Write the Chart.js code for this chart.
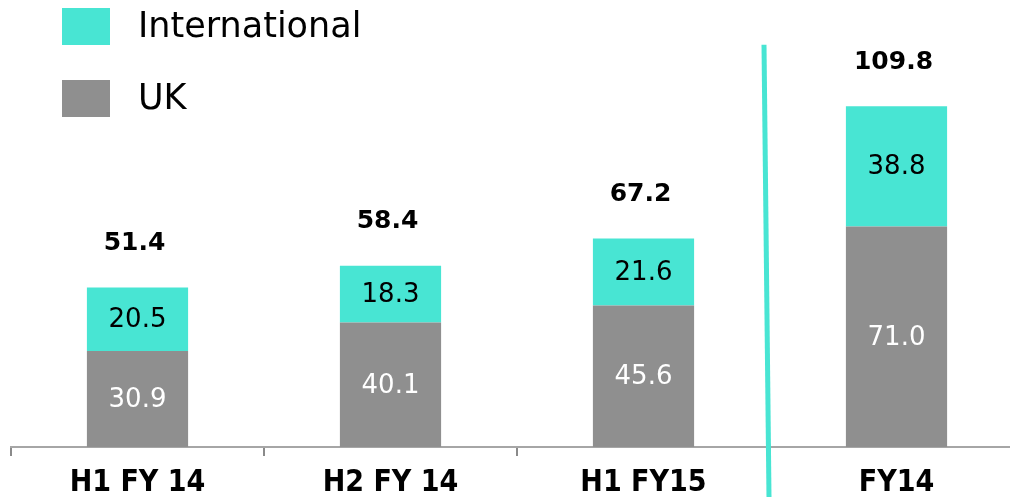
<!DOCTYPE html>
<html>
<head>
<meta charset="utf-8">
<script src="https://cdn.jsdelivr.net/npm/chart.js@4"></script>
<style>
  html, body { margin: 0; padding: 0; background: #fff; overflow: hidden; }
  #wrap { width: 1023px; height: 497px; }
</style>
</head>
<body>
<div id="wrap"><canvas id="chart"></canvas></div>
<script>
// chart data
const categories = ['H1 FY 14', 'H2 FY 14', 'H1 FY15', 'FY14'];
const ukValues = [30.9, 40.1, 45.6, 71.0];
const intlValues = [20.5, 18.3, 21.6, 38.8];
const totals = [51.4, 58.4, 67.2, 109.8];

const TEAL = '#48e5d3';
const GREY = '#8f8f8f';

// Draws the value inside each segment and the total above each bar
const valueLabels = {
  id: 'valueLabels',
  afterDatasetsDraw(chart) {
    const ctx = chart.ctx;
    ctx.save();
    ctx.textAlign = 'center';
    ctx.textBaseline = 'middle';
    chart.data.datasets.forEach((ds, i) => {
      const meta = chart.getDatasetMeta(i);
      meta.data.forEach((bar, j) => {
        ctx.font = '26px "DejaVu Sans", sans-serif';
        ctx.fillStyle = i === 0 ? '#ffffff' : '#000000';
        ctx.fillText(ds.data[j].toFixed(1), bar.x, (bar.y + bar.base) / 2 + 1);
      });
    });
    // totals
    const top = chart.getDatasetMeta(1);
    top.data.forEach((bar, j) => {
      ctx.font = 'bold 25px "DejaVu Sans", sans-serif';
      ctx.fillStyle = '#000000';
      ctx.fillText(totals[j].toFixed(1), bar.x - 3, bar.y - 44);
    });
    ctx.restore();
  }
};

// Legend in the top-left corner, International above UK
const cornerLegend = {
  id: 'cornerLegend',
  afterDraw(chart) {
    const ctx = chart.ctx;
    const items = chart.data.datasets.slice().reverse();
    ctx.save();
    ctx.textBaseline = 'middle';
    ctx.textAlign = 'left';
    ctx.font = '35px "DejaVu Sans", sans-serif';
    items.forEach((ds, k) => {
      const y = 8 + k * 72;
      ctx.fillStyle = ds.backgroundColor;
      ctx.fillRect(62, y, 48, 37);
      ctx.fillStyle = '#000000';
      ctx.fillText(ds.label, 138, y + 20);
    });
    ctx.restore();
  }
};

// Teal divider between the half-year bars and the full-year bar
const divider = {
  id: 'divider',
  afterDraw(chart) {
    const ctx = chart.ctx;
    const xs = chart.scales.x;
    const ys = chart.scales.y;
    const x = (xs.getPixelForValue(2) + xs.getPixelForValue(3)) / 2;
    ctx.save();
    ctx.strokeStyle = TEAL;
    ctx.lineWidth = 5;
    ctx.beginPath();
    ctx.moveTo(x - 6, ys.getPixelForValue(129.6));
    ctx.lineTo(x - 1, chart.height);
    ctx.stroke();
    ctx.restore();
  }
};

const ctx = document.getElementById('chart').getContext('2d');
new Chart(ctx, {
  type: 'bar',
  data: {
    labels: categories,
    datasets: [
      {
        label: 'UK',
        data: ukValues,
        backgroundColor: GREY,
        barPercentage: 0.8,
        categoryPercentage: 0.5,
      },
      {
        label: 'International',
        data: intlValues,
        backgroundColor: TEAL,
        barPercentage: 0.8,
        categoryPercentage: 0.5,
      },
    ],
  },
  options: {
    responsive: true,
    maintainAspectRatio: false,
    animation: false,
    layout: { padding: { left: 11, right: 0, top: 0, bottom: 0 } },
    plugins: {
      legend: { display: false },
      tooltip: { enabled: false },
    },
    scales: {
      x: {
        stacked: true,
        afterFit: (scale) => { scale.height = 50; },
        border: { display: true, color: '#a6a6a6', width: 2 },
        grid: {
          offset: true,
          drawOnChartArea: false,
          drawTicks: true,
          tickLength: 9,
          color: '#8a8a8a',
          lineWidth: 2,
        },
        ticks: {
          color: '#000000',
          padding: 9,
          font: { family: '"Liberation Sans Narrow", "DejaVu Sans Condensed", sans-serif', size: 30, weight: 'bold' },
        },
      },
      y: {
        stacked: true,
        display: false,
        min: 0,
        max: 144,
      },
    },
  },
  plugins: [valueLabels, cornerLegend, divider],
});
</script>
</body>
</html>
